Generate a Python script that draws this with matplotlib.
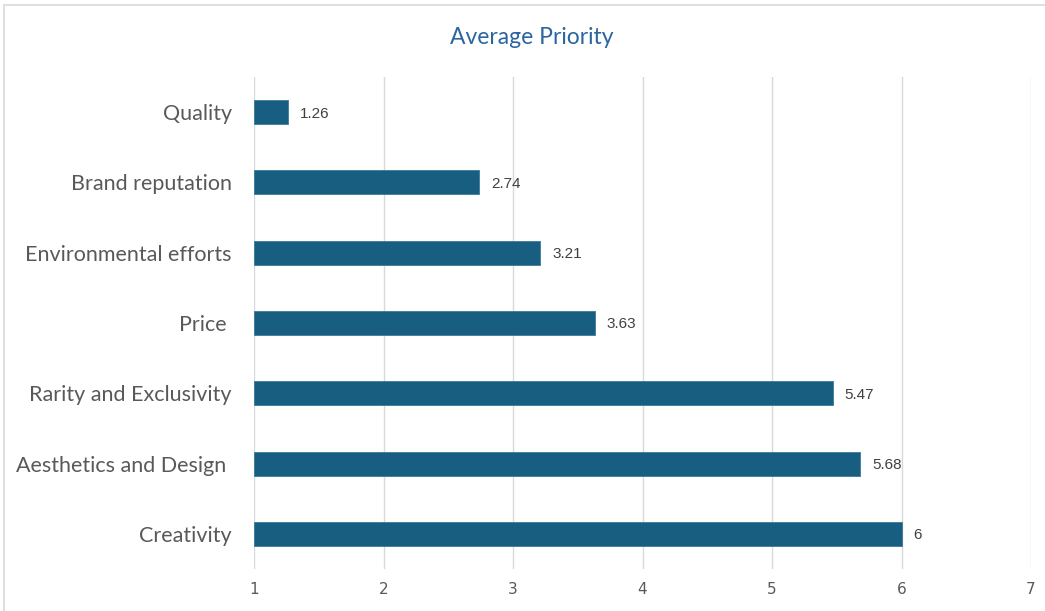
import matplotlib
matplotlib.use("Agg")
import matplotlib.pyplot as plt
from matplotlib.patches import Rectangle

categories = ["Quality", "Brand reputation", "Environmental efforts", "Price ",
              "Rarity and Exclusivity", "Aesthetics and Design ", "Creativity"]
values = [1.26, 2.74, 3.21, 3.63, 5.47, 5.68, 6]
value_labels = ["1.26", "2.74", "3.21", "3.63", "5.47", "5.68", "6"]
xticks = [1, 2, 3, 4, 5, 6, 7]

fig = plt.figure(figsize=(10.45, 6.11), dpi=100)
fig.patches.append(Rectangle((4/1045, -0.1), 1.2, 1 - 5/611 + 0.1, transform=fig.transFigure,
                             fill=False, edgecolor="#d9d9d9", linewidth=1.2))
ax = fig.add_axes([254/1045, 1 - 569/611, (1031-254)/1045, (569-77)/611])

base = 1
ypos = list(range(len(categories)))
ax.barh(ypos, [v - base for v in values], left=base, height=0.34,
        color="#175e80", edgecolor="#3a7a98", linewidth=0.6, zorder=3)
for y, v, lab in zip(ypos, values, value_labels):
    ax.annotate(lab, (v, y), xytext=(8.5, -1), textcoords="offset points",
                ha="left", va="center", fontsize=11, color="#404040",
                family=["Liberation Sans", "DejaVu Sans"])

ax.set_ylim(len(categories) - 0.5, -0.5)
ax.set_xlim(1, 7)
ax.set_xticks(xticks)
ax.set_xticklabels([str(t) for t in xticks], color="#595959", fontsize=11,
                   family=["Liberation Sans Narrow", "DejaVu Sans"])
ax.set_yticks(ypos)
ax.set_yticklabels(categories, fontsize=15.5, color="#595959", family=["Lato", "DejaVu Sans"])
ax.tick_params(axis="both", length=0)
ax.tick_params(axis="y", pad=16)
ax.tick_params(axis="x", pad=9)
ax.grid(axis="x", color="#d9d9d9", linewidth=1, zorder=0)
for s in ax.spines.values():
    s.set_visible(False)

fig.text(532/1045, 1 - 38/611, "Average Priority", ha="center", va="center",
         fontsize=16.5, color="#2b65a0", family=["Lato", "DejaVu Sans"])

fig.savefig("out.png", dpi=100)
